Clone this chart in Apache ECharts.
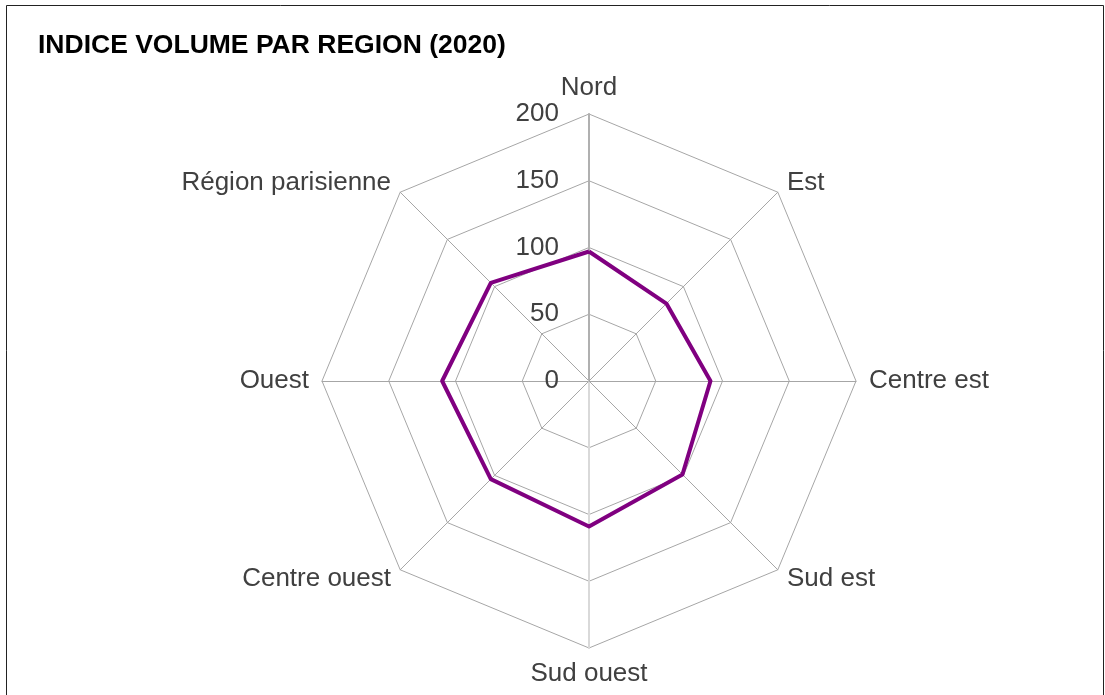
<!DOCTYPE html>
<html>
<head>
<meta charset="utf-8">
<script src="https://cdn.jsdelivr.net/npm/echarts@6/dist/echarts.min.js"></script>
<style>
	html, body { margin: 0; padding: 0; background: #fff; }
	#chart { width: 1105px; height: 695px; }
</style>
</head>
<body>
<div id="chart"></div>
<script>
	// regions, listed counter-clockwise from the top (ECharts radar order)
	var regions = [ 'Nord', 'Région parisienne', 'Ouest', 'Centre ouest', 'Sud ouest', 'Sud est', 'Centre est', 'Est' ];
	var indice2020 = [ 97, 104, 110, 104, 109, 99, 91, 82 ];
	var axisMax = 200;

	var chartDom = document.getElementById('chart');
	var myChart = echarts.init(chartDom);
	var option;

	var indicators = regions.map(function (name, i) {
		var ind = { name: name, min: 0, max: axisMax };
		if (i === 0) {
			ind.axisLabel = { show: true };
			ind.axisLine = { lineStyle: { color: '#b0b0b0', width: 2 } };
		}
		if (name === 'Sud ouest') {
			ind.axisLine = { lineStyle: { color: '#d9d9d9', width: 2 } };
		}
		return ind;
	});

	option = {
		animation: false,
		title: {
			text: 'INDICE VOLUME PAR REGION (2020)',
			left: 33,
			top: 27,
			textStyle: {
				fontFamily: 'Liberation Sans',
				fontSize: 26.5,
				fontWeight: 'bold',
				color: '#000'
			}
		},
		graphic: [
			{
				type: 'rect',
				shape: { x: 6.5, y: 5.5, width: 1097, height: 720 },
				style: { fill: 'none', stroke: '#222', lineWidth: 1 },
				silent: true
			}
		],
		radar: {
			center: [ 589, 381 ],
			radius: 267,
			startAngle: 90,
			splitNumber: 4,
			shape: 'polygon',
			indicator: indicators,
			axisName: {
				color: '#404040',
				fontFamily: 'Liberation Sans',
				fontSize: 26
			},
			nameGap: 13,
			axisLine: {
				lineStyle: { color: '#a6a6a6', width: 1 }
			},
			splitLine: {
				lineStyle: { color: '#a6a6a6', width: 1 }
			},
			splitArea: { show: false },
			axisTick: { show: false },
			axisLabel: {
				show: false,
				color: '#404040',
				fontFamily: 'Liberation Sans',
				fontSize: 26,
				margin: 30
			}
		},
		series: [
			{
				name: '2020',
				type: 'radar',
				symbol: 'none',
				lineStyle: { color: '#800080', width: 4 },
				itemStyle: { color: '#800080' },
				data: [ { value: indice2020, name: '2020' } ]
			}
		]
	};

	option && myChart.setOption(option);
</script>
</body>
</html>
